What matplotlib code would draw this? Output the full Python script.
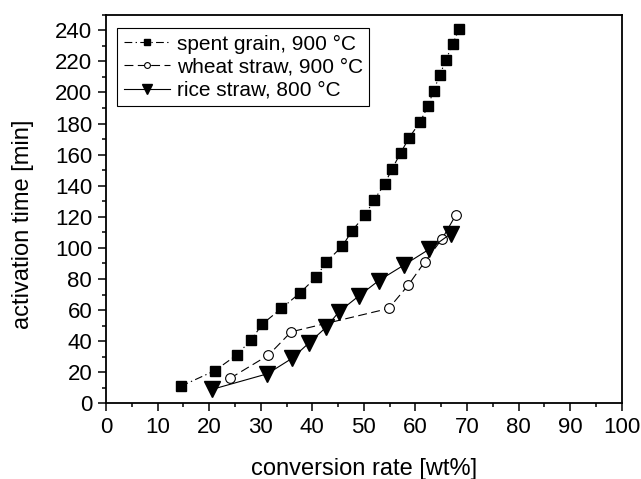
import matplotlib
matplotlib.use("Agg")
import matplotlib.pyplot as plt
from matplotlib.ticker import MultipleLocator

plt.rcParams['font.family'] = ['Liberation Sans', 'DejaVu Sans']

# spent grain, 900 °C
sg_x = [14.5, 21.1, 25.3, 28.2, 30.3, 34.0, 37.6, 40.7, 42.7, 45.8, 47.7, 50.2,
        52.0, 54.0, 55.5, 57.1, 58.8, 60.9, 62.4, 63.5, 64.7, 65.9, 67.2, 68.5]
sg_y = [11, 21, 31, 41, 51, 61, 71, 81, 91, 101, 111, 121,
        131, 141, 151, 161, 171, 181, 191, 201, 211, 221, 231, 241]

# wheat straw, 900 °C
ws_x = [24.0, 31.5, 35.9, 54.8, 58.6, 61.8, 65.2, 67.8]
ws_y = [16, 31, 46, 61, 76, 91, 106, 121]

# rice straw, 800 °C
rs_x = [20.6, 31.3, 36.1, 39.4, 42.7, 45.2, 49.0, 52.9, 57.8, 62.6, 66.8]
rs_y = [9, 19, 29, 39, 49, 59, 69, 79, 89, 99, 109]

labels = ['spent grain, 900 °C', 'wheat straw, 900 °C', 'rice straw, 800 °C']

fig = plt.figure(figsize=(6.41, 4.79), dpi=100)
ax = fig.add_axes([0.1654, 0.158, 0.8046, 0.8113])

lw = 0.8
ax.plot(sg_x, sg_y, color='black', lw=lw, dashes=(7, 3, 1.2, 3),
        marker='s', ms=6.5, mfc='black', mec='black', label=labels[0])
ax.plot(ws_x, ws_y, color='black', lw=lw, dashes=(8, 4),
        marker='o', ms=7, mfc='white', mec='black', mew=0.8, label=labels[1])
ax.plot(rs_x, rs_y, color='black', lw=lw, ls='-',
        marker='v', ms=11, mfc='black', mec='black', label=labels[2])

ax.set_xlim(0, 100)
ax.set_ylim(0, 250)
ax.xaxis.set_major_locator(MultipleLocator(10))
ax.xaxis.set_minor_locator(MultipleLocator(5))
ax.yaxis.set_major_locator(MultipleLocator(20))
ax.yaxis.set_minor_locator(MultipleLocator(10))
ax.tick_params(which='both', direction='out', top=False, right=False,
               labelsize=16, width=1.1)
ax.tick_params(which='major', length=6, pad=4)
ax.tick_params(which='minor', length=3)
for s in ax.spines.values():
    s.set_linewidth(1.3)

ax.set_xlabel('conversion rate [wt%]', fontsize=17)
ax.set_ylabel('activation time [min]', fontsize=17)
ax.xaxis.set_label_coords(0.5, -0.141)
ax.yaxis.set_label_coords(-0.14, 0.46)

leg = ax.legend(loc='upper left', bbox_to_anchor=(0.022, 0.965), fontsize=15,
                frameon=True, fancybox=False, edgecolor='black', framealpha=1,
                handlelength=2.25, handletextpad=0.3, borderpad=0.3,
                labelspacing=0.2, borderaxespad=0, markerscale=0.6)
leg.get_frame().set_linewidth(0.8)

fig.savefig('out.png', dpi=100)
